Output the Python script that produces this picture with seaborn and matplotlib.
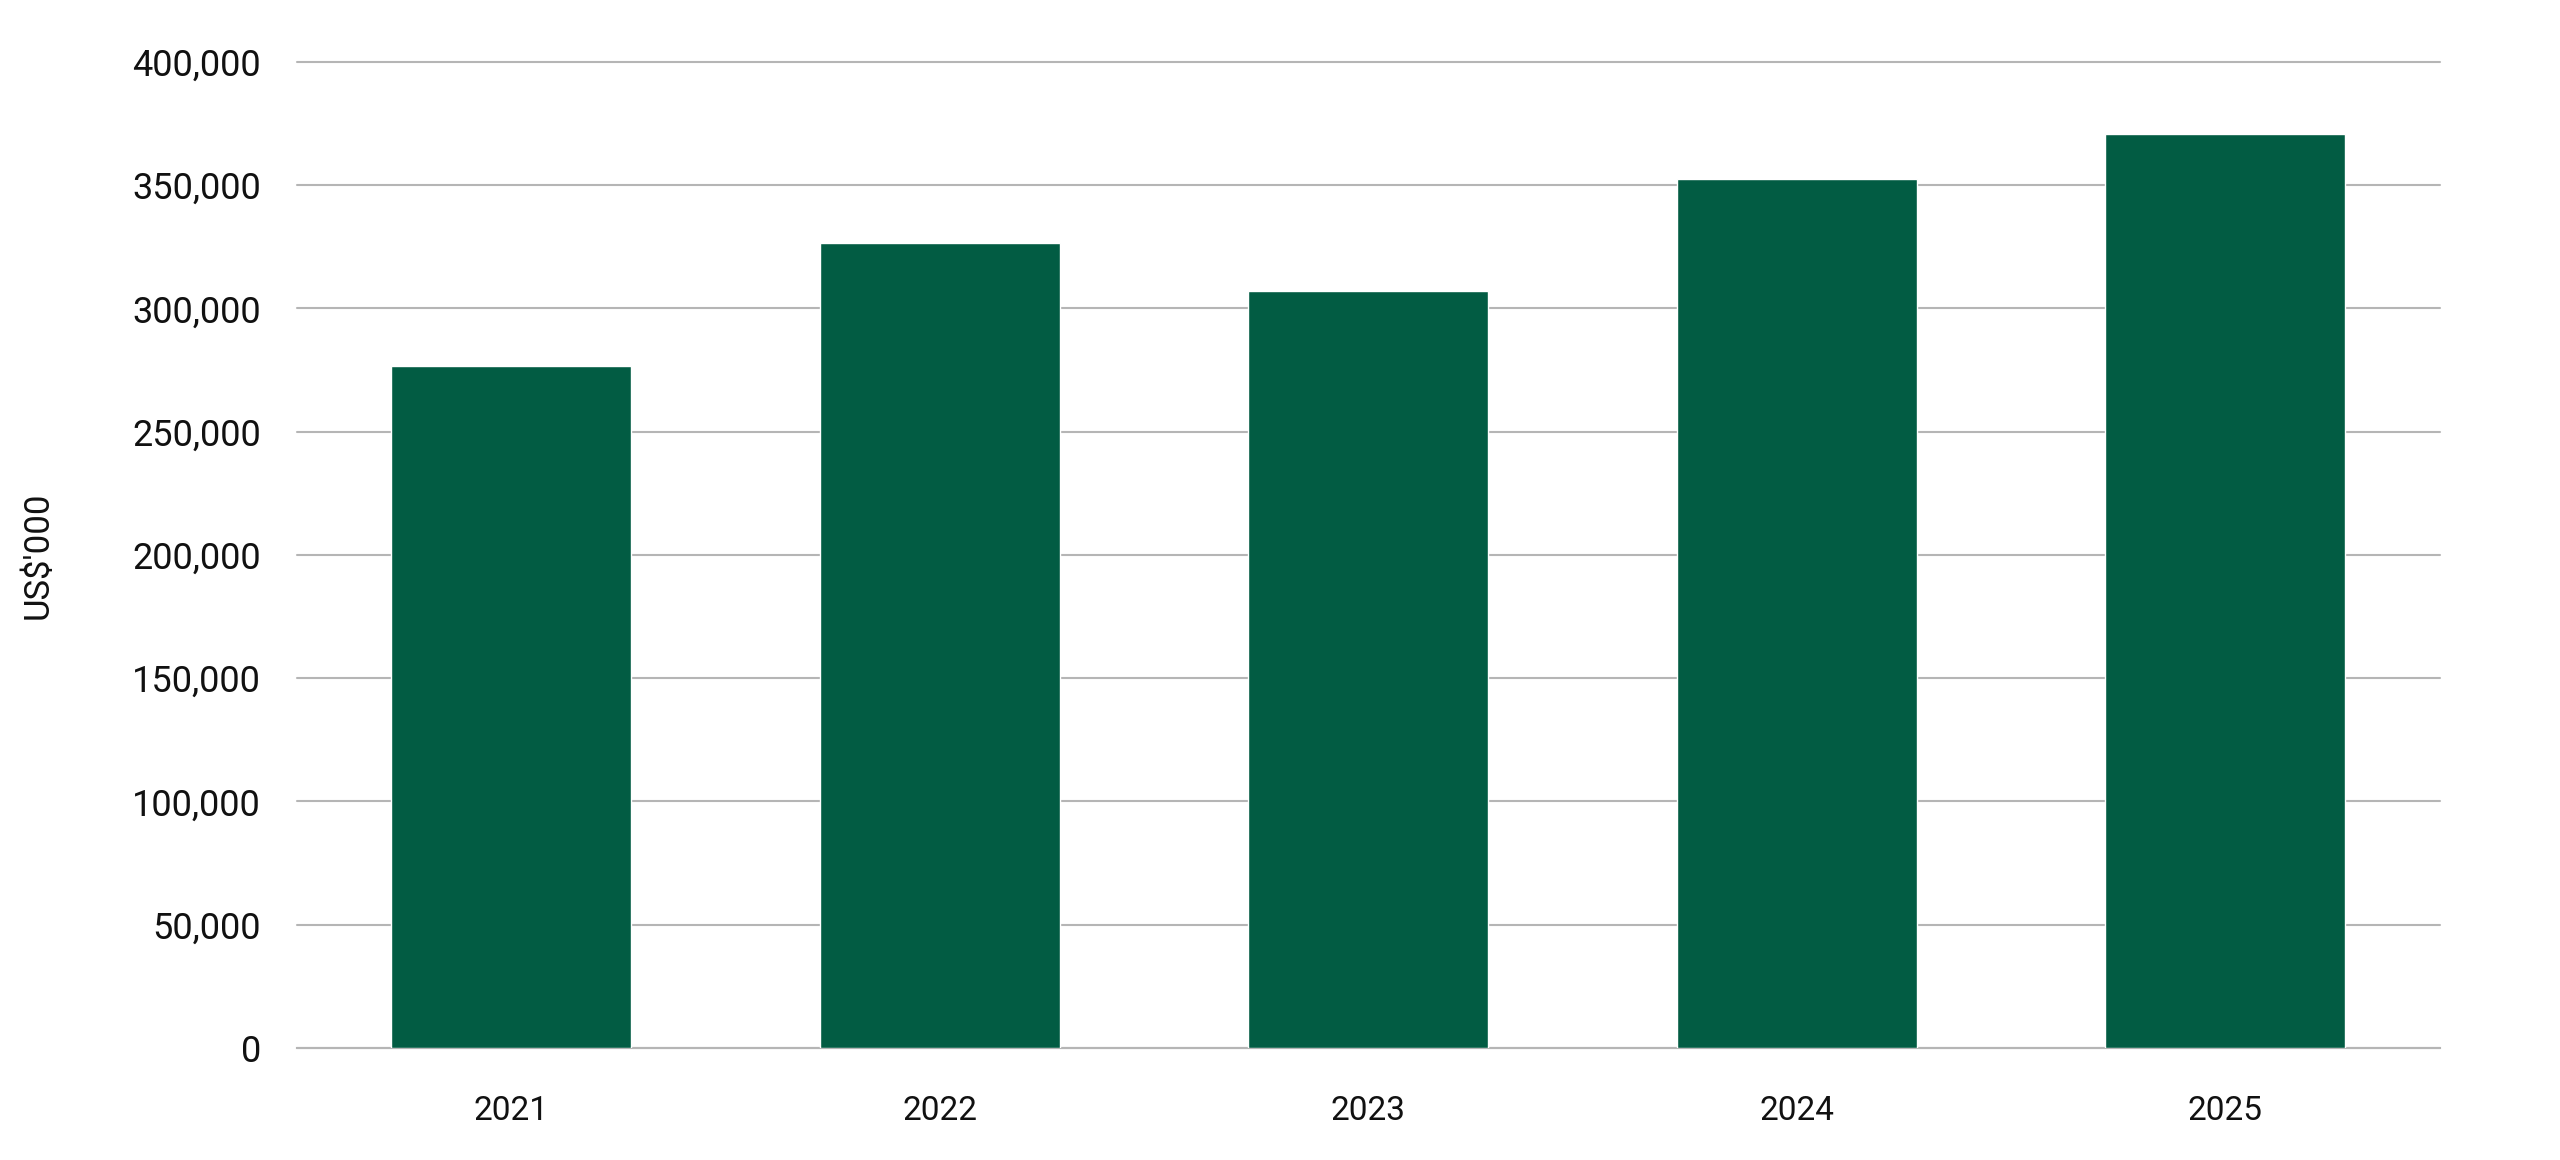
import pandas as pd
import numpy as np
import matplotlib
matplotlib.use('Agg')
import matplotlib.pyplot as plt
import seaborn as sns
from matplotlib.ticker import FuncFormatter, MultipleLocator

years = ['2021', '2022', '2023', '2024', '2025']
values = [276500, 326500, 307200, 352700, 370800]

df = pd.DataFrame({'Year': years, 'Value': values})

sns.set_style('white')
plt.rcParams['font.family'] = ['Roboto', 'DejaVu Sans']

bar_color = '#025c43'
grid_color = '#b5b5b5'

fig = plt.figure(figsize=(25.6, 11.6), dpi=100)
ax = fig.add_axes([0.116, 0.0966, 0.837, 0.85])

sns.barplot(data=df, x='Year', y='Value', color=bar_color, width=0.56,
            saturation=1, ax=ax, zorder=3)

ax.set_ylim(0, 400000)
ax.yaxis.set_major_locator(MultipleLocator(50000))
ax.yaxis.set_major_formatter(FuncFormatter(lambda v, p: f'{int(v):,}'))
ax.grid(axis='y', color=grid_color, linewidth=1.5, zorder=0)
ax.set_axisbelow(True)
# keep the top gridline from being clipped at the axes edge
for gl in ax.get_ygridlines():
    gl.set_clip_on(False)

for s in ['top', 'right', 'left']:
    ax.spines[s].set_visible(False)
ax.spines['bottom'].set_color(grid_color)
ax.spines['bottom'].set_linewidth(1.5)

ax.tick_params(axis='both', length=0, colors='#111111')
ax.tick_params(axis='x', pad=34, labelsize=24)
ax.tick_params(axis='y', pad=26, labelsize=26)
for lbl in ax.get_yticklabels():
    lbl.set_y(lbl.get_position()[1])

ax.set_xlabel('')
ax.set_ylabel("US$'000", fontsize=25, color='#111111')
ax.yaxis.set_label_coords(-0.113, 0.5)

fig.savefig('out.png', dpi=100, facecolor='white')
